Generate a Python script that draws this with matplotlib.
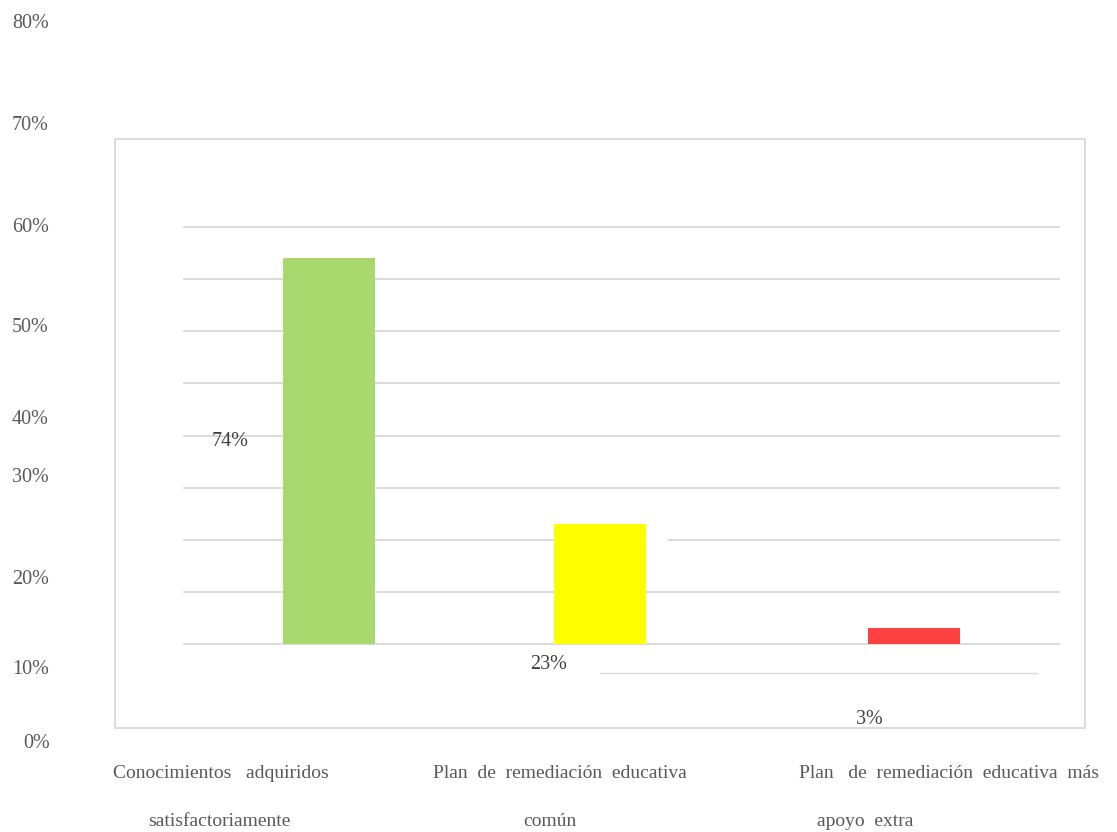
import matplotlib
matplotlib.use("Agg")
import matplotlib.pyplot as plt
from matplotlib.patches import Rectangle

# ---- data ----
categories = ["Conocimientos adquiridos satisfactoriamente",
              "Plan de remediación educativa común",
              "Plan de remediación educativa más apoyo extra"]
values = [74, 23, 3]
value_labels = ["74%", "23%", "3%"]
colors = ["#a9d86e", "#ffff00", "#ff4040"]
ytick_labels = ["80%", "70%", "60%", "50%", "40%", "30%", "20%", "10%", "0%"]
cat_line1 = ["Conocimientos   adquiridos", "Plan  de  remediación  educativa",
             "Plan   de  remediación  educativa  más"]
cat_line2 = ["satisfactoriamente", "común", "apoyo  extra"]

# ---- layout (pixels in a 1117x832 figure) ----
W, H = 1117, 832
bar_x = [0.0, 1.0, 2.163]
ytick_py = [24, 126, 228, 327, 420, 477, 579, 669, 743]
ytick_px = [12, 12, 12, 12, 12, 12, 12, 12, 23]
line1_px = [113, 433, 799]
line2_px = [148, 523, 817]
label_offsets = [(-99, -183), (-51, -140), (-45, -91)]
TXT = "#595959"
GRID = "#d9d9d9"
FONT = "Liberation Serif"

plt.rcParams["font.family"] = [FONT, "DejaVu Serif"]

fig = plt.figure(figsize=(W / 100, H / 100), dpi=100)

def fx(px):
    return px / W

def fy(py):
    return 1 - py / H

# outer frame
fig.patches.append(Rectangle((fx(115), fy(728)), fx(1085) - fx(115), fy(139) - fy(728),
                             transform=fig.transFigure, fill=False,
                             edgecolor=GRID, linewidth=1.3, zorder=0))

PPU = (644 - 227) / 80.0  # pixels per percent
ax = fig.add_axes([fx(183), fy(644 + PPU), fx(1060) - fx(183), fy(227 - PPU) - fy(644 + PPU)])
ax.set_xlim(-0.54, 2.702)
ax.set_ylim(-1, 81)
for s in ax.spines.values():
    s.set_visible(False)
ax.set_xticks([])
ax.set_yticks(range(0, 81, 10))
ax.tick_params(axis="y", length=0, labelleft=False)
ax.yaxis.grid(True, color=GRID, linewidth=1.3)
ax.set_axisbelow(True)
ax.patch.set_alpha(0)

ax.bar(bar_x, values, width=0.34, color=colors, zorder=2)

# small gap in a gridline and stray line as in the reference
ax.hlines(20, 1.17, 1.25, color="white", linewidth=2.5, zorder=1)
ax.hlines(-5.56, 1.002, 2.621, color=GRID, linewidth=1.0, clip_on=False)

for x, v, lab, (dx, dy) in zip(bar_x, values, value_labels, label_offsets):
    ax.annotate(lab, xy=(x, v), xytext=(dx, dy), textcoords="offset pixels",
                ha="center", va="center", fontsize=14.5, color="#404040",
                annotation_clip=False)

for lab, px, py in zip(ytick_labels, ytick_px, ytick_py):
    fig.text(fx(px), fy(py), lab, ha="left", va="center", fontsize=14.5, color=TXT)

for l1, l2, x1, x2 in zip(cat_line1, cat_line2, line1_px, line2_px):
    fig.text(fx(x1), fy(773), l1, ha="left", va="center", fontsize=14, color=TXT)
    fig.text(fx(x2), fy(822), l2, ha="left", va="center", fontsize=14, color=TXT)

fig.savefig("out.png", dpi=100)
